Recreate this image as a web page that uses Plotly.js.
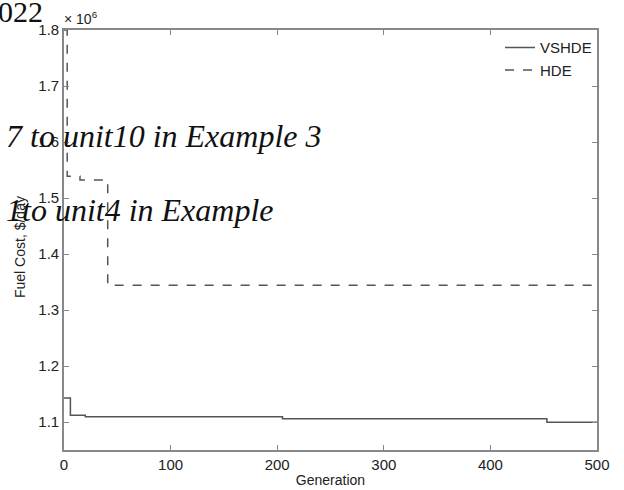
<!DOCTYPE html>
<html>
<head>
<meta charset="utf-8">
<script src="https://cdn.plot.ly/plotly-3.0.1.min.js"></script>
<style>html,body{margin:0;padding:0;background:#fff;}#chart{width:624px;height:490px;}</style>
</head>
<body>
<div id="chart"></div>
<script>
// Data
const genVSHDE = [0, 6, 20, 205, 453, 500];
const costVSHDE = [1.143e6, 1.112e6, 1.1095e6, 1.106e6, 1.0995e6, 1.0995e6];
const genHDE = [0, 3, 15, 41, 500];
const costHDE = [1.8e6, 1.539e6, 1.532e6, 1.344e6, 1.344e6];
const yTickVals = [1.1e6, 1.2e6, 1.3e6, 1.4e6, 1.5e6, 1.6e6, 1.7e6, 1.8e6];
const yTickText = ['1.1', '1.2', '1.3', '1.4', '1.5', '1.6', '1.7', '1.8'];
const xTickVals = [0, 100, 200, 300, 400, 500];
const seriesNames = ['VSHDE', 'HDE'];

const L = 64, R = 597, T = 30, B = 450;
function px(x){ return (x - L) / (R - L); }
function py(y){ return (B - y) / (B - T); }

const lineColor = '#555';
const traces = [
  {x: genVSHDE, y: costVSHDE, name: seriesNames[0], mode: 'lines', line: {shape: 'hv', color: lineColor, width: 1.5, dash: 'solid'}},
  {x: genHDE, y: costHDE, name: seriesNames[1], mode: 'lines', line: {shape: 'hv', color: lineColor, width: 1.5, dash: 'dash'}}
];

const serif = 'Liberation Serif, Times New Roman, serif';
const layout = {
  width: 624, height: 490,
  margin: {l: L, r: 624 - R, t: T, b: 490 - B, pad: 0},
  paper_bgcolor: '#fff', plot_bgcolor: '#fff',
  font: {family: 'Liberation Sans, Arial, sans-serif', color: '#222', size: 14},
  showlegend: true,
  legend: {x: 1, xanchor: 'right', y: 0.997, yanchor: 'top', bgcolor: 'rgba(0,0,0,0)', borderwidth: 0,
           font: {size: 15, color: '#222'}, tracegroupgap: 0, itemwidth: 30},
  xaxis: {range: [0, 500], tickvals: xTickVals, ticks: 'inside', ticklen: 5, tickcolor: '#888',
          showline: true, linecolor: '#888', linewidth: 1.8, mirror: 'ticks', showgrid: false, zeroline: false,
          tickfont: {size: 15, color: '#222'},
          title: {text: 'Generation', font: {size: 14, color: '#222'}, standoff: 3}},
  yaxis: {range: [1.05e6, 1.8e6], tickvals: yTickVals, ticktext: yTickText, ticks: 'inside', ticklen: 5, tickcolor: '#888',
          showline: true, linecolor: '#888', linewidth: 1.8, mirror: 'ticks', showgrid: false, zeroline: false,
          tickfont: {size: 15, color: '#222'}},
  annotations: [
    {xref: 'paper', yref: 'paper', x: px(20), y: py(247), xanchor: 'center', yanchor: 'middle', showarrow: false,
     textangle: -90, text: 'Fuel Cost, $/day', font: {size: 14, color: '#222'}},
    {xref: 'paper', yref: 'paper', x: px(62), y: py(18), xanchor: 'left', yanchor: 'middle', showarrow: false,
     text: '× 10<sup>6</sup>', font: {size: 14, color: '#222'}},
    {xref: 'paper', yref: 'paper', x: px(-4), y: py(12), xanchor: 'left', yanchor: 'middle', showarrow: false,
     text: '022', font: {family: serif, size: 30, color: '#111'}},
    {xref: 'paper', yref: 'paper', x: px(4), y: py(136), xanchor: 'left', yanchor: 'middle', showarrow: false,
     text: '<i>7 to unit10 in Example 3</i>', font: {family: serif, size: 32, color: '#111'}},
    {xref: 'paper', yref: 'paper', x: px(4), y: py(210), xanchor: 'left', yanchor: 'middle', showarrow: false,
     text: '<i>1to unit4 in Example</i>', font: {family: serif, size: 32, color: '#111'}}
  ]
};

Plotly.newPlot('chart', traces, layout, {displayModeBar: false, staticPlot: true});
</script>
</body>
</html>
